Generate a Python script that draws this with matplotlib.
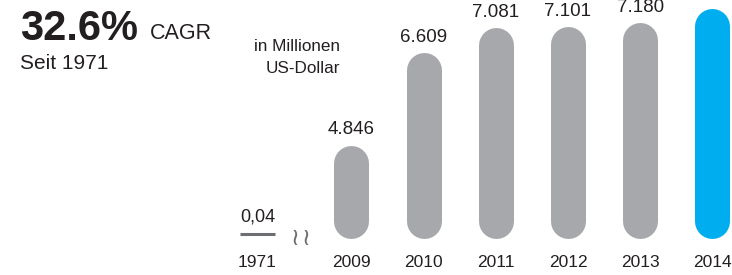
import matplotlib
matplotlib.use("Agg")
import matplotlib.pyplot as plt
from matplotlib.transforms import offset_copy

plt.rcParams['font.family'] = ['Liberation Sans', 'DejaVu Sans']

# data (in Millionen US-Dollar)
years = ["1971", "2009", "2010", "2011", "2012", "2013", "2014"]
values = [0.04, 4846, 6609, 7081, 7101, 7180, 7460]
value_labels = ["0,04", "4.846", "6.609", "7.081", "7.101", "7.180", "7.460"]

GRAY = "#a7a8ab"
BLUE = "#00aeef"
TEXT = "#231f20"

fig = plt.figure(figsize=(7.32, 2.75), dpi=100)
ax = fig.add_axes([0, 0, 1, 1])
ax.axis('off')

# x layout: gap between 1971 and the rest (broken axis)
gap = 1.3
xs = [0] + [gap + i for i in range(len(years) - 1)]
ax.set_xlim(-3.566, 6.572)

# truncated value scale, bars start at "base"
base = 3090
px = 19.0  # value units per pixel
ax.set_ylim(base - 37 * px, base + 238 * px)

bar_px = 35
r = bar_px / 2 * px  # cap radius in data units
lw = bar_px * 72 / fig.dpi

for i in range(1, len(years)):
    color = BLUE if i == len(years) - 1 else GRAY
    ax.vlines(xs[i], base + r, values[i] - r, colors=color, linewidth=lw,
              capstyle='round')
    ax.annotate(value_labels[i], (xs[i], values[i]), xytext=(0, 8),
                textcoords='offset points', ha='center', va='baseline',
                fontsize=13.5, color=TEXT, annotation_clip=False)

# 1971: almost zero, drawn as a flat line
up = offset_copy(ax.transData, fig=fig, x=0, y=4, units='dots')
half = bar_px / 2 / 72.2
ax.plot([xs[0] - half, xs[0] + half], [base + values[0]] * 2,
        color="#6d6e71", linewidth=2.2, transform=up, solid_capstyle='butt')
ax.annotate(value_labels[0], (xs[0], base), xytext=(0, 12),
            textcoords='offset points', ha='center', va='baseline',
            fontsize=13, color=TEXT)

# break marks
for dx in (-4, 4):
    ax.annotate("≀", (xs[0] + gap * 0.46, base), xytext=(dx, 0),
                textcoords='offset points', ha='center', va='center',
                fontsize=17, color="#6d6e71", family=['DejaVu Sans'])

# year labels
for x, y in zip(xs, years):
    ax.annotate(y, (x, base), xytext=(0, -21), textcoords='offset points',
                ha='center', va='baseline', fontsize=12.5, color=TEXT)

fig.text(0.0273, 0.8545, "32.6%", fontsize=30, fontweight='bold', color=TEXT,
         va='baseline')
fig.text(0.205, 0.858, "CAGR", fontsize=15.5, color=TEXT, va='baseline')
fig.text(0.0273, 0.749, "Seit 1971", fontsize=15, color=TEXT, va='baseline')
fig.text(0.4644, 0.8145, "in Millionen", fontsize=12.3, color=TEXT,
         va='baseline', ha='right')
fig.text(0.4644, 0.7345, "US-Dollar", fontsize=12.3, color=TEXT,
         va='baseline', ha='right')

fig.savefig("out.png", dpi=100)
